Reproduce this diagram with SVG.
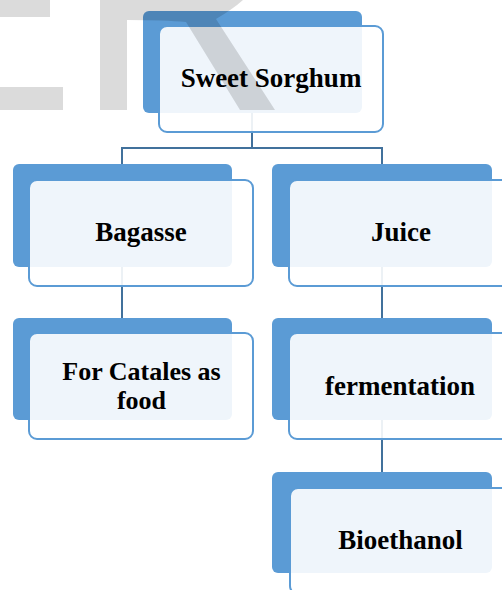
<svg xmlns="http://www.w3.org/2000/svg" width="502" height="590" viewBox="0 0 502 590">
  <style>
    .back { fill: #5b9bd5; }
    .front { fill: #ffffff; fill-opacity: 0.9; stroke: #5b9bd5; stroke-width: 2; }
    .lbl { font-family: "Liberation Serif", "Times New Roman", serif; font-weight: bold; font-size: 27px; fill: #000; text-anchor: middle; }
    .sm { font-size: 26px; }
    .conn { fill: none; stroke: #41719c; stroke-width: 2; }
    .wm { fill: #000; fill-opacity: 0.14; }
  </style>
  <rect width="502" height="590" fill="#ffffff"/>
  <g id="connectors">
    <path class="conn" d="M252,100 V148 M122,148 H382 M122,147 V200 M382,147 V200"/>
    <path class="conn" d="M122,250 V320"/>
    <path class="conn" d="M382,250 V320"/>
    <path class="conn" d="M382,400 V474"/>
  </g>
  <g id="node-sweet-sorghum">
    <rect class="back" x="143" y="11" width="219" height="102" rx="6"/>
    <rect class="front" x="159" y="26" width="224" height="106" rx="8"/>
    <text class="lbl" x="271" y="87">Sweet Sorghum</text>
  </g>
  <g id="node-bagasse">
    <rect class="back" x="13" y="164" width="219" height="103" rx="6"/>
    <rect class="front" x="29" y="180" width="224" height="106" rx="8"/>
    <text class="lbl" x="141" y="241">Bagasse</text>
  </g>
  <g id="node-juice">
    <rect class="back" x="272" y="164" width="220" height="103" rx="6"/>
    <rect class="front" x="289" y="180" width="224" height="106" rx="8"/>
    <text class="lbl" x="401" y="241">Juice</text>
  </g>
  <g id="node-catales">
    <rect class="back" x="13" y="318" width="219" height="102" rx="6"/>
    <rect class="front" x="29" y="333" width="224" height="106" rx="8"/>
    <text class="lbl sm" x="141.5" y="380">For Catales as</text>
    <text class="lbl sm" x="141.5" y="409">food</text>
  </g>
  <g id="node-fermentation">
    <rect class="back" x="272" y="318" width="220" height="102" rx="6"/>
    <rect class="front" x="289" y="333" width="224" height="106" rx="8"/>
    <text class="lbl" x="400" y="395">fermentation</text>
  </g>
  <g id="node-bioethanol">
    <rect class="back" x="272" y="472" width="220" height="101" rx="6"/>
    <rect class="front" x="290" y="488" width="224" height="106" rx="8"/>
    <text class="lbl" x="400.5" y="549">Bioethanol</text>
  </g>
  <g id="watermark">
    <rect class="wm" x="0" y="0" width="50" height="17"/>
    <rect class="wm" x="0" y="87" width="63" height="23"/>
    <path class="wm" d="M100,0 H243 Q233,9 216,19 L275,110 H240 L186,22 Q165,20 127,20 V110 H100 Z"/>
  </g>
</svg>
